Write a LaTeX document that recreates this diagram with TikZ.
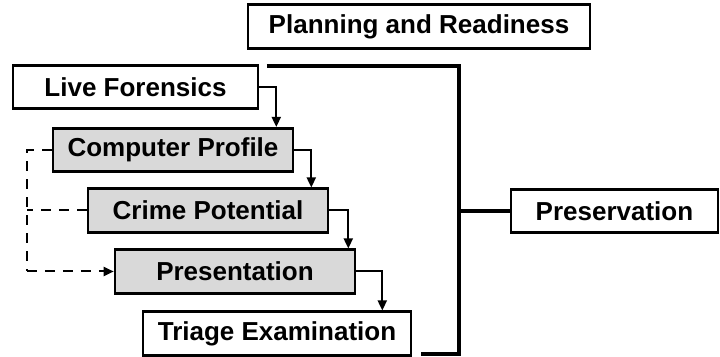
\documentclass[tikz,border=0pt]{standalone}
\usepackage{fontspec}
\setmainfont{Liberation Sans}
\usetikzlibrary{arrows.meta}
\definecolor{boxgray}{HTML}{D9D9D9}
\begin{document}
\begin{tikzpicture}[x=0.5pt,y=-0.5pt,
  box/.style={draw=black,line width=1.3pt,inner sep=0pt,minimum height=21.75pt,font=\fontsize{13}{15}\selectfont\bfseries,fill=white},
  graybox/.style={box,fill=boxgray},
  arr/.style={line width=1pt,-{Triangle[length=5pt,width=4.5pt]}},
  dasharr/.style={line width=1pt,dash pattern=on 5pt off 4pt},
  bracket/.style={line width=2.2pt}]
\useasboundingbox (0,0) rectangle (720,357);
\node[box,minimum width=171pt] (PR) at (419,26.5) {Planning and Readiness};
\node[box,minimum width=122.5pt] (LF) at (135.5,87) {Live Forensics};
\node[graybox,minimum width=120pt] (CP) at (173,150) {Computer Profile};
\node[graybox,minimum width=120pt] (CR) at (208,210.5) {Crime Potential};
\node[graybox,minimum width=120pt] (PN) at (235,271.5) {Presentation};
\node[box,minimum width=134pt] (TE) at (277,333.5) {Triage Examination};
\node[box,minimum width=103.5pt] (PV) at (614.5,211) {Preservation};
% solid arrows
\coordinate (k1) at ([xshift=8.5pt]LF.east);
\coordinate (k2) at ([xshift=8.5pt]CP.east);
\coordinate (k3) at ([xshift=9.5pt]CR.east);
\coordinate (k4) at ([xshift=13pt]PN.east);
\draw[arr] (LF.east) -| (k1 |- CP.north);
\draw[arr] (CP.east) -| (k2 |- CR.north);
\draw[arr] (CR.east) -| (k3 |- PN.north);
\draw[arr] (PN.east) -| (k4 |- TE.north);
% dashed feedback
\coordinate (d1) at (27,150);
\coordinate (d2) at (27,271.5);
\draw[dasharr] (CP.west) -- (d1) -- (d2);
\draw[dasharr] (CR.west) -- (d1 |- CR.west);
\draw[dasharr,-{Triangle[length=5pt,width=4.5pt]}] (d2) -- (PN.west);
% bracket
\coordinate (b1) at (267,66);
\coordinate (b2) at (459,66);
\coordinate (b3) at (459,354);
\coordinate (b4) at (421,354);
\draw[bracket] (b1) -- (b2) -- (b3) -- (b4);
\draw[bracket] (b2 |- PV.west) -- (PV.west);
\end{tikzpicture}
\end{document}
